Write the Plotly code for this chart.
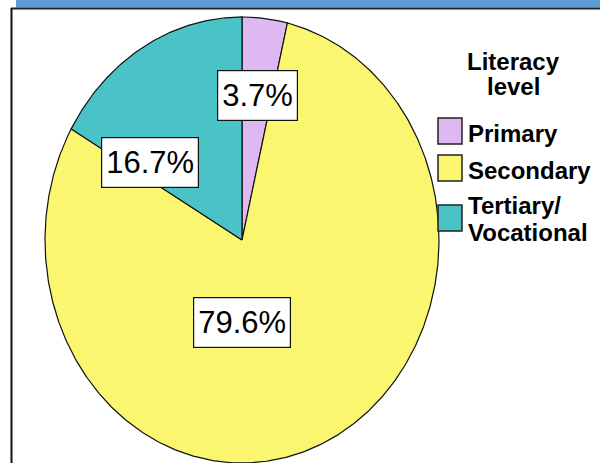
import numpy as np
import plotly.graph_objects as go

# Literacy level distribution (percent of respondents)
categories = ["Primary", "Secondary", "Tertiary/Vocational"]
percentages = [3.7, 79.6, 16.7]
colors = ["#DEB8F0", "#FAF670", "#4AC3C6"]
legend_title = ["Literacy", "level"]

# Pie geometry in page pixels (the pie is drawn as a stretched ellipse)
CX, CY, RX, RY = 242, 240, 197, 223
# Label box centres in page pixels, one per category
label_pos = [(257, 95), (242, 322), (150, 162)]
# Legend layout
SW_X0, SW_X1 = 438, 462
swatch_tops = [118, 155, 205]
SW_H = 26
TEXT_X = 466
LINE_H = 27

FONT = "Liberation Sans, Arial, sans-serif"

fig = go.Figure()

# Slices, clockwise from 12 o'clock
total = float(sum(percentages))
start = 0.0
for cat, val, col in zip(categories, percentages, colors):
    frac0 = start / total
    frac1 = (start + val) / total
    t = np.linspace(frac0, frac1, max(int(val * 6), 12)) * 2 * np.pi
    xs = np.concatenate([[CX], CX + RX * np.sin(t), [CX]])
    ys = np.concatenate([[CY], CY - RY * np.cos(t), [CY]])
    fig.add_trace(go.Scatter(
        x=xs, y=ys, mode="lines", fill="toself", fillcolor=col,
        line=dict(color="#111111", width=1.2), name=cat,
        hoverinfo="name", showlegend=False,
    ))
    start += val

# Percentage labels in white boxes
for val, (lx, ly) in zip(percentages, label_pos):
    fig.add_annotation(
        x=lx, y=ly, xref="x", yref="y", text=f"{val:.1f}%", showarrow=False,
        font=dict(family=FONT, size=31, color="black"),
        bgcolor="white", bordercolor="#111111", borderwidth=1.2, borderpad=4,
        height=41, valign="middle",
    )

# Legend title
for i, line in enumerate(legend_title):
    fig.add_annotation(
        x=513, y=61 + i * 25, xref="x", yref="y", text=f"<b>{line}</b>",
        showarrow=False, xanchor="center", yanchor="middle",
        font=dict(family=FONT, size=24, color="black"),
    )

# Legend entries: swatch plus name
shapes = []
for cat, col, top in zip(categories, colors, swatch_tops):
    shapes.append(dict(
        type="rect", xref="x", yref="y", x0=SW_X0, x1=SW_X1, y0=top, y1=top + SW_H,
        fillcolor=col, line=dict(color="#222222", width=1.5), layer="above",
    ))
    parts = cat.split("/")
    lines = [p + "/" for p in parts[:-1]] + [parts[-1]]
    first_y = top + SW_H / 2 + 2 if len(lines) == 1 else top
    for j, ln in enumerate(lines):
        fig.add_annotation(
            x=TEXT_X, y=first_y + j * LINE_H, xref="x", yref="y",
            text=f"<b>{ln}</b>", showarrow=False, xanchor="left", yanchor="middle",
            font=dict(family=FONT, size=24, color="black"),
        )

# Header band and frame
shapes += [
    dict(type="rect", xref="paper", yref="y", x0=16 / 600, x1=1, y0=0, y1=7.5,
         fillcolor="#5B9BD5", line=dict(width=0), layer="below"),
    dict(type="line", xref="x", yref="y", x0=11, x1=600, y0=8.5, y1=8.5,
         line=dict(color="#222222", width=2)),
    dict(type="line", xref="x", yref="y", x0=11.5, x1=11.5, y0=8, y1=463,
         line=dict(color="#111111", width=2)),
]

fig.update_layout(
    width=600, height=463,
    margin=dict(l=0, r=0, t=0, b=0),
    paper_bgcolor="white", plot_bgcolor="white",
    xaxis=dict(range=[0, 600], visible=False, fixedrange=True),
    yaxis=dict(range=[463, 0], visible=False, fixedrange=True),
    shapes=shapes,
    showlegend=False,
)

fig.write_html("out.html")
